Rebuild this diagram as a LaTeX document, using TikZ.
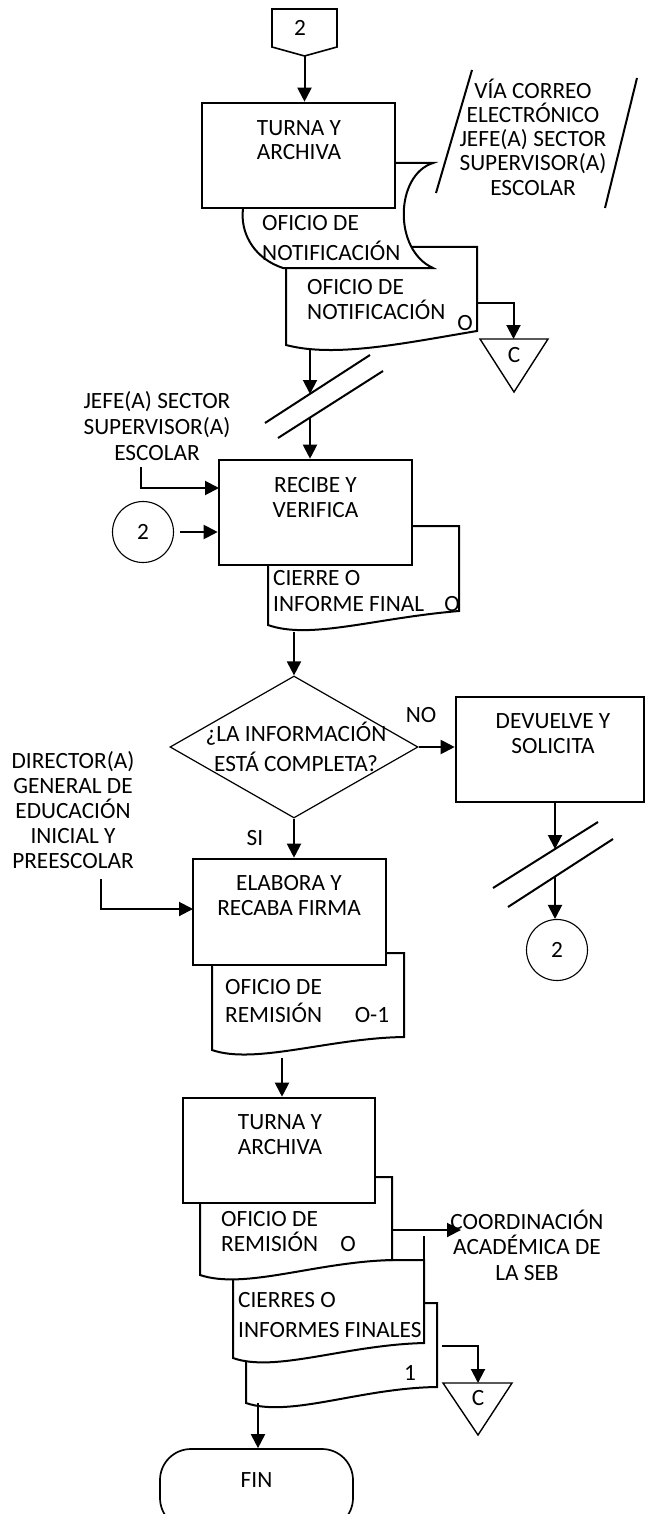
\documentclass[tikz,border=0pt]{standalone}
\usepackage{fontspec}
\setmainfont{Carlito}
\usetikzlibrary{arrows.meta,shapes.geometric}
\begin{document}
\begin{tikzpicture}[x=1pt,y=-1pt,
  lbl/.style={font=\fontsize{23.3}{25}\selectfont, inner sep=0pt, align=center},
  lbll/.style={font=\fontsize{23.3}{25}\selectfont, inner sep=0pt, align=left, anchor=west},
  procbox/.style={draw, line width=2.6pt, fill=white, inner sep=0pt},
  docshape/.style={draw, line width=2pt, fill=white},
  flow/.style={line width=2pt, -{Triangle[length=14pt,width=14pt]}},
  plainline/.style={line width=2pt},
]
\useasboundingbox (0,0) rectangle (646,1514);

% ---------- top: off-page connector ----------
\draw[line width=1.6pt, fill=white] (272,9) -- (337,9) -- (337,47) -- (304.5,56) -- (272,47) -- cycle;
\coordinate (opc) at (304.5,56);

% ---------- documents behind TURNA Y ARCHIVA ----------
\draw[docshape] (286,247) -- (477,247) -- (477,331) .. controls (405,343) and (335,358) .. (286,345) -- cycle;
\draw[docshape] (290,163) -- (433,163) .. controls (395,175) and (393,250) .. (433,268) -- (283,268) .. controls (228,250) and (228,175) .. (290,163) -- cycle;
\node[procbox, minimum width=193pt, minimum height=105pt] (ta1) at (298.5,155.5) {};
\draw[flow] (opc) -- (opc |- ta1.north);

% e-mail symbol
\draw[plainline] (436,193) -- (472,70);
\draw[plainline] (605,208) -- (637,78);

% to C triangle
\coordinate (nr) at (477,303);
\coordinate (ct1) at (513.5,339);
\draw[flow] (nr) -| (ct1);
\draw[line width=1.4pt] (480,339) -- (548,339) -- (514,392) -- cycle;

% slash and arrow to RECIBE
\coordinate (nb) at (310,350);
\coordinate (s1) at (310,394);
\coordinate (s2) at (310,418);
\draw[flow] (nb) -- (s1);
\draw[plainline] (265,423) -- (370,355);
\draw[plainline] (278,438) -- (383,371);

% ---------- RECIBE Y VERIFICA ----------
\draw[docshape] (268,526) -- (459,526) -- (459,611) .. controls (375,618) and (310,640) .. (268,625) -- cycle;
\node[procbox, minimum width=193pt, minimum height=105pt] (rv) at (315.5,512.5) {};
\draw[flow] (s2) -- (s2 |- rv.north);

\coordinate (j1) at (141,467);
\coordinate (rvin) at (219,488);
\draw[flow] (j1) |- (rvin);
\node[draw, circle, lbl, line width=1.1pt, minimum size=61pt] (c2a) at (143,532) {2};
\draw[flow] ([xshift=6pt]c2a.east) -- (rv.west |- c2a.east);

% ---------- decision ----------
\node[draw, diamond, line width=1.2pt, minimum width=248pt, minimum height=142pt, inner sep=0pt] (dec) at (294,747) {};
\coordinate (rvb) at (294,632);
\draw[flow] (rvb) -- (dec.north);

\node[procbox, minimum width=188pt, minimum height=105pt] (ds) at (550,749.5) {};
\draw[flow] (dec.east) -- (ds.west |- dec.east);

\coordinate (s3) at (555,849);
\coordinate (s4) at (555,877);
\draw[flow] (ds.south -| s3) -- (s3);
\draw[plainline] (493,888) -- (598,822);
\draw[plainline] (508,907) -- (613,839);
\node[draw, circle, lbl, line width=1.1pt, minimum size=61pt] (c2b) at (557,950) {2};
\draw[flow] (s4) -- (s4 |- c2b.north);

% ---------- ELABORA Y RECABA FIRMA ----------
\draw[docshape] (212,953) -- (404,953) -- (404,1037) .. controls (330,1038) and (255,1065) .. (212,1050) -- cycle;
\node[procbox, minimum width=193pt, minimum height=106pt] (er) at (289.5,912) {};
\draw[flow] (dec.south) -- (dec.south |- er.north);
\coordinate (dd) at (101,879);
\coordinate (erin) at (193,909);
\draw[flow] (dd) |- (erin);

% ---------- TURNA Y ARCHIVA (2) ----------
\draw[docshape] (246,1303) -- (437,1303) -- (437,1387) .. controls (360,1388) and (290,1418) .. (246,1403) -- cycle;
\draw[docshape] (233,1260) -- (424,1260) -- (424,1343) .. controls (345,1345) and (275,1373) .. (233,1358) -- cycle;
\draw[docshape] (200,1177) -- (392,1177) -- (392,1260) .. controls (315,1262) and (245,1290) .. (200,1275) -- cycle;
\draw[line width=2pt] (424,1236) -- (424,1260);
\node[procbox, minimum width=192pt, minimum height=105pt] (ta2) at (279,1150.5) {};
\coordinate (erb) at (282,1058);
\draw[flow] (erb) -- (erb |- ta2.north);

\coordinate (orr) at (392,1230);
\coordinate (cin) at (461,1230);
\draw[flow] (orr) -- (cin);

\coordinate (d3r) at (442,1346);
\coordinate (ct2) at (478,1383);
\draw[flow] (d3r) -| (ct2);
\draw[line width=1.4pt] (443,1383) -- (512,1383) -- (478,1435) -- cycle;

\node[draw, line width=1.7pt, rounded corners=31pt, minimum width=193pt, minimum height=80pt] (fin) at (256.5,1489) {};
\coordinate (d3b) at (258,1403);
\draw[flow] (d3b) -- (d3b |- fin.north);

% ---------- texts ----------
\node[lbl] (t-op) at (300,28) {2};
\node[lbl, font=\fontsize{23.3}{24.5}\selectfont] (t-ta1) at (299,140) {TURNA Y\\ARCHIVA};
\node[lbl, font=\fontsize{23.3}{24.3}\selectfont] (t-mail) at (533,137) {VÍA CORREO\\ELECTRÓNICO\\JEFE(A) SECTOR\\SUPERVISOR(A)\\ESCOLAR};
\node[lbll, font=\fontsize{23.3}{30}\selectfont] (t-d1) at (262,238) {OFICIO DE\\NOTIFICACIÓN};
\node[lbll] (t-d2) at (307,300) {OFICIO DE\\NOTIFICACIÓN};
\node[lbl] (t-d2o) at (465,323) {O};
\node[lbl] (t-c1) at (514,355) {C};
\node[lbl, font=\fontsize{23.3}{26}\selectfont] (t-jefe) at (157,426) {JEFE(A) SECTOR\\SUPERVISOR(A)\\ESCOLAR};
\node[lbl] (t-rv) at (315.5,497.5) {RECIBE Y\\VERIFICA};
\node[lbll, font=\fontsize{23.3}{26}\selectfont] (t-rvd) at (273,591) {CIERRE O\\INFORME FINAL};
\node[lbl] (t-rvo) at (452,604) {O};
\node[lbl, font=\fontsize{23.3}{30}\selectfont] (t-dec) at (296,747) {¿LA INFORMACIÓN\\ESTÁ COMPLETA?};
\node[lbl] (t-no) at (421,715) {NO};
\node[lbl] (t-si) at (255,838) {SI};
\node[lbl] (t-ds) at (553,734) {DEVUELVE Y\\SOLICITA};
\node[lbl] (t-dir) at (73,810.5) {DIRECTOR(A)\\GENERAL DE\\EDUCACIÓN\\INICIAL Y\\PREESCOLAR};
\node[lbl] (t-er) at (289,896) {ELABORA Y\\RECABA FIRMA};
\node[lbll, font=\fontsize{23.3}{28}\selectfont] (t-erd) at (225,1001.5) {OFICIO DE\\REMISIÓN};
\node[lbl] (t-ero) at (372,1015) {O-1};
\node[lbl] (t-ta2) at (280,1135) {TURNA Y\\ARCHIVA};
\node[lbll] (t-ord) at (221,1231.5) {OFICIO DE\\REMISIÓN};
\node[lbl] (t-oro) at (348,1244) {O};
\node[lbl, font=\fontsize{23.3}{25.5}\selectfont] (t-coord) at (527,1245) {COORDINACIÓN\\ACADÉMICA DE\\LA SEB};
\node[lbll, font=\fontsize{23.3}{29.5}\selectfont] (t-cf) at (238,1315) {CIERRES O\\INFORMES FINALES};
\node[lbl] (t-one) at (410,1373) {1};
\node[lbl] (t-c2) at (478,1398) {C};
\node[lbl] (t-fin) at (256.5,1480) {FIN};
\end{tikzpicture}
\end{document}
